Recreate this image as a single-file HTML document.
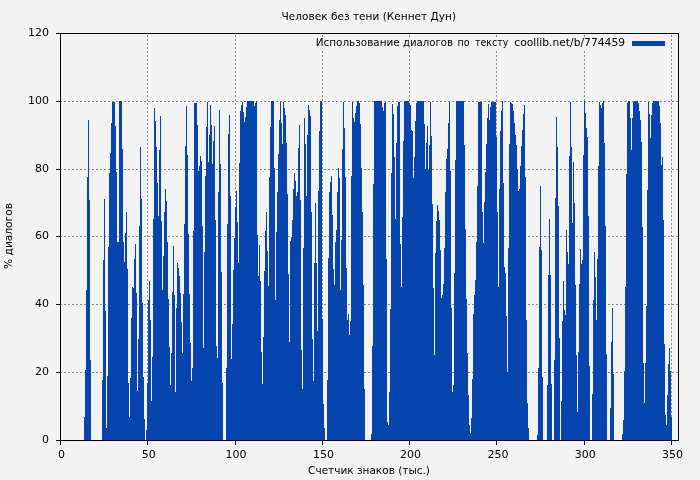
<!DOCTYPE html>
<html lang="ru"><head><meta charset="utf-8"><title>Человек без тени (Кеннет Дун)</title>
<style>
html,body{margin:0;padding:0;background:#f3f3f3;}
body{width:700px;height:480px;overflow:hidden;}
svg{display:block;}
text{font-family:"DejaVu Sans", "Liberation Sans", sans-serif;font-size:11px;fill:#000;}
</style></head><body>
<svg width="700" height="480" viewBox="0 0 700 480">
<rect width="700" height="480" fill="#f3f3f3"/>
<g stroke="#8a8a8a" stroke-width="1" stroke-dasharray="2 2" stroke-dashoffset="0.5" fill="none"><line x1="147.5" y1="440.5" x2="147.5" y2="33.5"/><line x1="235.5" y1="440.5" x2="235.5" y2="33.5"/><line x1="322.5" y1="440.5" x2="322.5" y2="33.5"/><line x1="409.5" y1="440.5" x2="409.5" y2="33.5"/><line x1="496.5" y1="440.5" x2="496.5" y2="33.5"/><line x1="584.5" y1="440.5" x2="584.5" y2="33.5"/><line x1="671.5" y1="440.5" x2="671.5" y2="33.5"/><line x1="60.5" y1="372.5" x2="678.5" y2="372.5"/><line x1="60.5" y1="304.5" x2="678.5" y2="304.5"/><line x1="60.5" y1="236.5" x2="678.5" y2="236.5"/><line x1="60.5" y1="169.5" x2="678.5" y2="169.5"/><line x1="60.5" y1="101.5" x2="678.5" y2="101.5"/></g>
<rect x="314" y="38.5" width="314" height="12" fill="#f3f3f3"/><rect x="628" y="34" width="40" height="16.5" fill="#f3f3f3"/>
<path d="M84 440.5V417H85V370H86V290H87V177H88V120H89V200H90V360H91V440.5H92V440.5H93V440.5H94V440.5H95V440.5H96V440.5H97V440.5H98V440.5H99V440.5H100V440.5H101V440.5H102V380H103V260H104V199H105V311H106V428H107V376H108V247H109V173H110V153H111V123H112V101.5H113V101.5H114V101.5H115V126H116V172H117V242H118V242H119V101H120V101H121V101H122V149H123V242H124V262H125V233H126V212H127V269H128V383H129V417H130V378H131V318H132V287H133V288H134V259H135V244H136V293H137V391H138V339H139V226H140V147H141V199H142V303H143V377H144V419H145V440.5H146V430H147V383H148V300H149V281H150V320H151V401H152V357H153V219H154V108H155V121H156V147H157V183H158V216H159V150H160V116H161V221H162V290H163V256H164V212H165V189H166V201H167V242H168V299H169V347H170V385H171V353H172V292H173V246H174V295H175V392H176V308H177V263H178V268H179V276H180V293H181V322H182V353H183V294H184V224H185V146H186V106H187V155H188V234H189V294H190V343H191V381H192V368H193V231H194V103H195V103H196V103H197V125H198V171H199V166H200V156H201V161H202V226H203V348H204V252H205V176H206V127H207V102H208V162H209V135H210V105H211V125H212V164H213V141H214V126H215V220H216V346H217V358H218V192H219V110H220V164H221V272H222V383H223V440.5H224V440.5H225V440.5H226V368H227V224H228V134H229V115H230V196H231V359H232V324H233V270H234V238H235V207H236V191H237V222H238V263H239V163H240V111H241V105H242V102H243V112H244V122H245V117H246V107H247V101H248V101H249V101H250V101H251V101H252V101H253V101H254V106H255V103H256V101H257V235H258V276H259V245H260V281H261V352H262V384H263V337H264V271H265V231H266V212H267V251H268V286H269V177H270V127H271V101H272V101H273V101H274V168H275V300H276V232H277V192H278V154H279V120H280V102H281V123H282V144H283V102H284V108H285V115H286V143H287V194H288V274H289V342H290V241H291V237H292V220H293V189H294V173H295V181H296V196H297V192H298V148H299V125H300V200H301V350H302V389H303V248H304V118H305V144H306V196H307V135H308V105H309V110H310V116H311V212H312V339H313V381H314V263H315V203H316V263H317V331H318V191H319V131H320V101H321V101H322V319H323V404H324V428H325V440.5H326V440.5H327V380H328V258H329V192H330V182H331V176H332V215H333V269H334V285H335V242H336V230H337V192H338V168H339V178H340V290H341V240H342V149H343V102H344V128H345V177H346V268H347V320H348V314H349V335H350V321H351V176H352V102H353V118H354V122H355V113H356V106H357V101H358V101H359V103H360V124H361V168H362V212H363V285H364V389H365V440.5H366V440.5H367V440.5H368V440.5H369V440.5H370V440.5H371V434H372V346H373V184H374V101H375V101H376V101H377V101H378V101H379V101H380V101H381V101H382V107H383V111H384V103H385V102H386V259H387V422H388V425H389V392H390V309H391V173H392V104H393V114H394V157H395V219H396V143H397V106H398V102H399V102H400V244H401V287H402V217H403V141H404V101H405V101H406V101H407V101H408V101H409V103H410V105H411V130H412V131H413V178H414V157H415V121H416V103H417V101H418V101H419V101H420V101H421V101H422V101H423V101H424V124H425V169H426V143H427V126H428V170H429V145H430V102H431V136H432V204H433V288H434V355H435V253H436V221H437V205H438V211H439V220H440V250H441V298H442V295H443V284H444V248H445V192H446V159H447V149H448V123H449V102H450V171H451V308H452V392H453V385H454V273H455V160H456V101H457V101H458V101H459V101H460V101H461V101H462V101H463V101H464V145H465V229H466V299H467V353H468V395H469V425H470V433H471V418H472V379H473V314H474V295H475V280H476V242H477V186H478V102H479V102H480V102H481V102H482V212H483V243H484V202H485V172H486V144H487V118H488V104H489V120H490V107H491V102H492V102H493V102H494V102H495V102H496V137H497V212H498V287H499V189H500V131H501V111H502V101H503V183H504V267H505V273H506V316H507V372H508V248H509V144H510V102H511V103H512V104H513V111H514V123H515V135H516V145H517V169H518V191H519V189H520V166H521V146H522V130H523V114H524V105H525V177H526V320H527V403H528V428H529V440.5H530V440.5H531V440.5H532V440.5H533V440.5H534V440.5H535V440.5H536V440.5H537V435H538V368H539V247H540V186H541V250H542V377H543V440.5H544V440.5H545V440.5H546V440.5H547V385H548V275H549V219H550V275H551V384H552V440.5H553V440.5H554V360H555V198H556V117H557V147H558V206H559V338H560V440.5H561V401H562V321H563V281H564V310H565V315H566V230H567V252H568V264H569V156H570V102H571V147H572V223H573V162H574V203H575V285H576V355H577V412H578V352H579V284H580V249H581V264H582V260H583V155H584V101H585V113H586V128H587V137H588V216H589V366H590V440.5H591V440.5H592V394H593V300H594V252H595V277H596V320H597V259H598V166H599V102H600V105H601V108H602V103H603V101H604V143H605V226H606V354H607V440.5H608V440.5H609V440.5H610V408H611V342H612V308H613V374H614V440.5H615V440.5H616V440.5H617V440.5H618V440.5H619V440.5H620V440.5H621V440.5H622V434H623V420H624V371H625V287H626V174H627V103H628V101H629V101H630V118H631V150H632V118H633V102H634V101H635V101H636V101H637V101H638V103H639V111H640V120H641V142H642V227H643V363H644V403H645V363H646V306H647V190H648V102H649V114H650V138H651V115H652V103H653V101H654V101H655V101H656V101H657V101H658V101H659V106H660V123H661V165H662V157H663V220H664V344H665V415H666V425H667V395H668V364H669V348H670V371H671V417H672V440.5Z" fill="#0645ad" shape-rendering="crispEdges"/>
<g stroke="#000" stroke-width="1" shape-rendering="crispEdges"><line x1="60.5" y1="440.5" x2="60.5" y2="444.5"/><line x1="147.5" y1="440.5" x2="147.5" y2="444.5"/><line x1="235.5" y1="440.5" x2="235.5" y2="444.5"/><line x1="322.5" y1="440.5" x2="322.5" y2="444.5"/><line x1="409.5" y1="440.5" x2="409.5" y2="444.5"/><line x1="496.5" y1="440.5" x2="496.5" y2="444.5"/><line x1="584.5" y1="440.5" x2="584.5" y2="444.5"/><line x1="671.5" y1="440.5" x2="671.5" y2="444.5"/><line x1="55.5" y1="440.5" x2="60.5" y2="440.5"/><line x1="55.5" y1="372.5" x2="60.5" y2="372.5"/><line x1="55.5" y1="304.5" x2="60.5" y2="304.5"/><line x1="55.5" y1="236.5" x2="60.5" y2="236.5"/><line x1="55.5" y1="169.5" x2="60.5" y2="169.5"/><line x1="55.5" y1="101.5" x2="60.5" y2="101.5"/><line x1="55.5" y1="33.5" x2="60.5" y2="33.5"/></g>
<rect x="60.5" y="33.5" width="618" height="407" fill="none" stroke="#000" stroke-width="1" shape-rendering="crispEdges"/>
<text transform="translate(368.8,20) scale(0.961,1)" text-anchor="middle">Человек без тени (Кеннет Дун)</text>
<text y="45.8" xml:space="preserve"><tspan x="315.65" textLength="84.11" lengthAdjust="spacingAndGlyphs">Использование</tspan> <tspan x="403.0" textLength="50.02" lengthAdjust="spacingAndGlyphs">диалогов</tspan> <tspan x="457.4" textLength="12.11" lengthAdjust="spacingAndGlyphs">по</tspan> <tspan x="475.1" textLength="33.17" lengthAdjust="spacingAndGlyphs">тексту</tspan> <tspan x="514.3" textLength="110.75" lengthAdjust="spacingAndGlyphs">coollib.net/b/774459</tspan></text>
<rect x="632" y="41" width="33" height="5" fill="#0645ad"/>
<text transform="translate(369,473.5) scale(0.957,1)" text-anchor="middle">Счетчик знаков (тыс.)</text>
<text transform="translate(12,236) rotate(-90) scale(0.967,1)" text-anchor="middle">% диалогов</text>
<text x="61.5" y="457.6" text-anchor="middle">0</text><text x="148.8" y="457.6" text-anchor="middle">50</text><text x="236.1" y="457.6" text-anchor="middle">100</text><text x="323.4" y="457.6" text-anchor="middle">150</text><text x="410.6" y="457.6" text-anchor="middle">200</text><text x="497.9" y="457.6" text-anchor="middle">250</text><text x="585.2" y="457.6" text-anchor="middle">300</text><text x="672.5" y="457.6" text-anchor="middle">350</text><text x="49" y="442.5" text-anchor="end">0</text><text x="49" y="374.5" text-anchor="end">20</text><text x="49" y="306.5" text-anchor="end">40</text><text x="49" y="238.5" text-anchor="end">60</text><text x="49" y="171.5" text-anchor="end">80</text><text x="49" y="103.5" text-anchor="end">100</text><text x="49" y="35.5" text-anchor="end">120</text>
</svg>
</body></html>
